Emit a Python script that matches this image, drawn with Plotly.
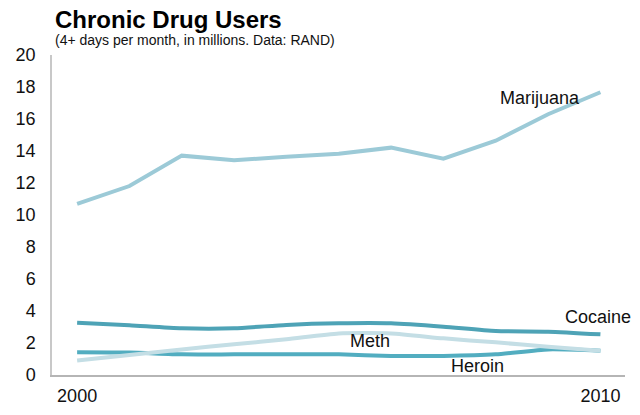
import plotly.graph_objects as go

years = list(range(2000, 2011))
marijuana = [10.69, 11.81, 13.71, 13.42, 13.64, 13.83, 14.21, 13.52, 14.64, 16.3, 17.67]
cocaine = [3.27, 3.11, 2.92, 2.92, 3.13, 3.23, 3.23, 3.02, 2.75, 2.71, 2.54]
heroin = [1.42, 1.40, 1.29, 1.29, 1.29, 1.29, 1.19, 1.19, 1.29, 1.60, 1.52]
meth = [0.90, 1.25, 1.60, 1.92, 2.23, 2.60, 2.60, 2.29, 2.04, 1.77, 1.52]

series = [
    ("Marijuana", marijuana, "#9ccad7", "linear"),
    ("Cocaine", cocaine, "#4ea3b6", "spline"),
    ("Heroin", heroin, "#52adc0", "spline"),
    ("Meth", meth, "#c4dee5", "spline"),
]

labels = [
    ("Marijuana", 2008.85, 17.3),
    ("Cocaine", 2009.95, 3.65),
    ("Meth", 2005.6, 2.1),
    ("Heroin", 2007.65, 0.57),
]

FONT = "Liberation Sans, Arial"

fig = go.Figure()
for name, vals, color, shape in series:
    fig.add_trace(go.Scatter(x=years, y=vals, mode="lines", name=name,
                             line=dict(color=color, width=4, shape=shape, smoothing=0.6),
                             hoverinfo="skip"))

for text, x, y in labels:
    fig.add_annotation(x=x, y=y, text=text, showarrow=False,
                       font=dict(size=18, color="#111", family=FONT),
                       xanchor="center", yanchor="middle")

fig.add_annotation(xref="paper", yref="paper", x=0, y=1.0, xshift=1, yshift=36,
                   text="<b>Chronic Drug Users</b>", showarrow=False,
                   xanchor="left", yanchor="middle",
                   font=dict(size=24, color="#000", family=FONT))
fig.add_annotation(xref="paper", yref="paper", x=0, y=1.0, xshift=1, yshift=15,
                   text="(4+ days per month, in millions. Data: RAND)", showarrow=False,
                   xanchor="left", yanchor="middle",
                   font=dict(size=14, color="#111", family=FONT))

# page body has an 8px margin, so the figure is sized and offset to match
fig.update_layout(
    width=632, height=407,
    margin=dict(l=44, r=15, t=47, b=40, autoexpand=False),
    paper_bgcolor="white", plot_bgcolor="white",
    showlegend=False,
    font=dict(family=FONT, size=18, color="#111"),
    xaxis=dict(range=[1999.52, 2010.47], tickvals=[2000, 2010], ticktext=["2000", "2010"],
               showgrid=False, zeroline=False, showline=True, linecolor="#b5b5b5", linewidth=1.5,
               ticks="outside", ticklen=4, tickcolor="rgba(0,0,0,0)", automargin=False,
               tickfont=dict(size=18, color="#111")),
    yaxis=dict(range=[0, 20], tickvals=list(range(0, 21, 2)),
               showgrid=False, zeroline=False, showline=True, linecolor="#c8c8c8", linewidth=1.5,
               ticks="outside", ticklen=11, tickcolor="rgba(0,0,0,0)", automargin=False,
               tickfont=dict(size=18, color="#111")),
)

fig.write_html("out.html")
